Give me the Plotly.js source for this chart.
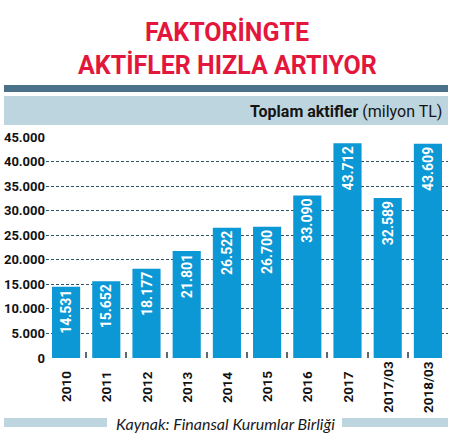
<!DOCTYPE html>
<html>
<head>
<meta charset="utf-8">
<script src="https://cdn.plot.ly/plotly-3.0.1.min.js"></script>
<style>
  html, body { margin: 0; padding: 0; background: #ffffff; }
  #grafik { width: 454px; height: 440px; }
</style>
</head>
<body>
<div id="grafik"></div>
<script>
// Toplam aktifler (milyon TL) -- Finansal Kurumlar Birliği
const donemler = ['2010', '2011', '2012', '2013', '2014', '2015', '2016', '2017', '2017/03', '2018/03'];
const aktifler = [14531, 15652, 18177, 21801, 26522, 26700, 33090, 43712, 32589, 43609];
const yEtiketleri = [0, 5000, 10000, 15000, 20000, 25000, 30000, 35000, 40000, 45000];

const baslikSatirlari = ['FAKTORİNGTE', 'AKTİFLER HIZLA ARTIYOR'];
const altBaslik = '<b>Toplam aktifler</b> (milyon TL)';
const kaynak = 'Kaynak: Finansal Kurumlar Birliği';

// dar gövdeli yazı tipi yok -- Roboto en yakını
const DAR = 'Roboto, "Liberation Sans", sans-serif';
const MAVI = '#0b98d5';
const ACIK_MAVI = '#bdd5df';

// çizim alanı piksel olarak: sol 46, sağ 448, üst 137, alt 358
const M = { l: 46, r: 6, t: 137, b: 82 };
const GEN = 454 - M.l - M.r;
const YUK = 440 - M.t - M.b;
const px = (x) => (x - M.l) / GEN;
const py = (y) => (440 - M.b - y) / YUK;

const bantlar = [
  { x0: 4, x1: 448, y0: 85, y1: 92, renk: '#4a7189' },
  { x0: 4, x1: 448, y0: 96, y1: 125, renk: ACIK_MAVI },
  { x0: 4, x1: 107, y0: 418, y1: 427, renk: ACIK_MAVI },
  { x0: 342, x1: 448, y0: 418, y1: 427, renk: ACIK_MAVI },
].map((b) => ({
  type: 'rect', xref: 'paper', yref: 'paper',
  x0: px(b.x0), x1: px(b.x1), y0: py(b.y1), y1: py(b.y0),
  fillcolor: b.renk, line: { width: 0 }, layer: 'below',
}));

const baslikNotlari = baslikSatirlari.map((t, i) => ({
  text: '<b>' + t + '</b>',
  xref: 'paper', yref: 'paper',
  x: px(227), y: py(32 + i * 33),
  xanchor: 'center', yanchor: 'middle',
  showarrow: false,
  font: { family: DAR, size: 25, color: '#e3173b' },
}));

const donemNotlari = donemler.map((d, i) => ({
  text: '<b>' + d + '</b>',
  xref: 'x', yref: 'paper',
  x: i, y: py(387),
  xanchor: 'center', yanchor: 'middle',
  textangle: -90,
  showarrow: false,
  font: { family: DAR, size: 13.5, color: '#111111' },
}));

const digerNotlar = [
  {
    text: altBaslik,
    xref: 'paper', yref: 'paper', x: px(444), y: py(111),
    xanchor: 'right', yanchor: 'middle', showarrow: false,
    font: { family: DAR, size: 16, color: '#141414' },
  },
  {
    text: '<i>' + kaynak + '</i>',
    xref: 'paper', yref: 'paper', x: px(225), y: py(423),
    xanchor: 'center', yanchor: 'middle', showarrow: false,
    font: { family: 'Lato, "Open Sans", sans-serif', size: 16, color: '#1a1a1a' },
  },
];

const trace = {
  type: 'bar',
  x: donemler,
  y: aktifler,
  marker: { color: MAVI, line: { width: 0 } },
  texttemplate: '<b>%{y:,d}</b>',
  textposition: 'inside',
  insidetextanchor: 'end',
  textangle: -90,
  textfont: { family: DAR, size: 14, color: '#ffffff' },
  constraintext: 'none',
  hoverinfo: 'skip',
};

const layout = {
  width: 454,
  height: 440,
  margin: M,
  separators: ',.',
  bargap: 0.3,
  showlegend: false,
  paper_bgcolor: '#ffffff',
  plot_bgcolor: '#ffffff',
  xaxis: {
    type: 'category',
    categoryorder: 'array',
    categoryarray: donemler,
    range: [-0.5, donemler.length - 0.5],
    showticklabels: false,
    showgrid: false,
    zeroline: false,
    showline: false,
    ticks: 'inside',
    tickson: 'boundaries',
    ticklen: 6,
    tickwidth: 2,
    tickcolor: '#5d6b71',
  },
  yaxis: {
    range: [0, 45000],
    tickmode: 'array',
    tickvals: yEtiketleri,
    ticktext: yEtiketleri.map((v) => '<b>' + v.toLocaleString('tr-TR') + '</b>'),
    tickfont: { family: DAR, size: 13, color: '#111111' },
    showgrid: true,
    gridcolor: '#2e5568',
    gridwidth: 1,
    griddash: '3px,2px',
    zeroline: false,
    showline: false,
    ticks: '',
  },
  shapes: bantlar,
  annotations: [...baslikNotlari, ...digerNotlar, ...donemNotlari],
};

Plotly.newPlot('grafik', [trace], layout, { displayModeBar: false, staticPlot: true });
</script>
</body>
</html>
